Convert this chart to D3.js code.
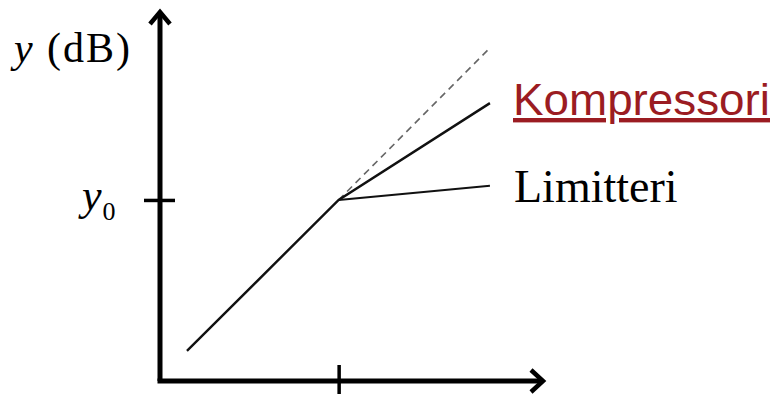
<!DOCTYPE html>
<html>
<head>
<meta charset="utf-8">
<script src="https://cdn.jsdelivr.net/npm/d3@7"></script>
<style>
  html, body { margin: 0; padding: 0; background: #fff; }
  svg { display: block; }
</style>
</head>
<body>
<svg width="773" height="394"></svg>
<script>
// input level (dB) at start, knee and end of each curve
const inputLevels = [7.0, 46.4, 85.7];
// output levels for each curve
const linearOut = [8.1, 48.8, 89.8];
const compressorOut = [8.1, 48.8, 74.9];
const limiterOut = [8.1, 48.8, 52.6];
const kneeX = 46.4;
const kneeY = 48.8;

const svg = d3.select('svg');

const x = d3.scaleLinear().domain([0, 100]).range([160, 545]);
const y = d3.scaleLinear().domain([0, 100]).range([381, 10]);

const line = d3.line()
    .x(d => d[0])
    .y(d => d[1]);

const pts = (ys) => inputLevels.map((v, i) => [x(v), y(ys[i])]);

// axes (ticks cross the axis line)
svg.append('g')
    .attr('transform', `translate(0,${y(0)})`)
    .call(d3.axisBottom(x).tickValues([kneeX]).tickFormat(''))
    .call(g => g.select('.domain').remove())
    .call(g => g.selectAll('.tick line').attr('y1', -16).attr('y2', 14).attr('stroke', '#000').attr('stroke-width', 3.5));

svg.append('g')
    .attr('transform', `translate(${x(0)},0)`)
    .call(d3.axisLeft(y).tickValues([kneeY]).tickFormat(''))
    .call(g => g.select('.domain').remove())
    .call(g => g.selectAll('.tick line').attr('x1', -16).attr('x2', 15).attr('stroke', '#000').attr('stroke-width', 3.5));

svg.append('path')
    .attr('d', line([[x(0) - 2.5, y(0)], [x(100) - 2, y(0)]]))
    .attr('stroke', '#000').attr('stroke-width', 5).attr('fill', 'none');
svg.append('path')
    .attr('d', line([[x(0), y(0)], [x(0), y(100) + 2]]))
    .attr('stroke', '#000').attr('stroke-width', 5).attr('fill', 'none');

// arrow heads
svg.append('path')
    .attr('d', line([[x(100) - 14, y(0) - 11], [x(100) - 2, y(0)], [x(100) - 14, y(0) + 11]]))
    .attr('stroke', '#000').attr('stroke-width', 4.5).attr('fill', 'none');
svg.append('path')
    .attr('d', line([[x(0) - 10, y(100) + 14], [x(0), y(100) + 2], [x(0) + 10, y(100) + 14]]))
    .attr('stroke', '#000').attr('stroke-width', 4.5).attr('fill', 'none');

// curves
svg.append('path')
    .attr('d', line(pts(linearOut).slice(1)))
    .attr('stroke', '#666').attr('stroke-width', 1.6).attr('fill', 'none')
    .attr('stroke-dasharray', '7,5');
svg.append('path')
    .attr('d', line(pts(compressorOut)))
    .attr('stroke', '#111').attr('stroke-width', 2.4).attr('fill', 'none');
svg.append('path')
    .attr('d', line(pts(limiterOut).slice(1)))
    .attr('stroke', '#111').attr('stroke-width', 2).attr('fill', 'none');

// labels
const yLabel = svg.append('text')
    .attr('x', 14).attr('y', 62)
    .attr('font-family', 'Liberation Serif, serif')
    .attr('font-size', 42)
    .attr('fill', '#000')
    .attr('textLength', 116);
yLabel.append('tspan').attr('font-style', 'italic').text('y');
yLabel.append('tspan').text(' (dB)');

const y0Label = svg.append('text')
    .attr('x', 82).attr('y', 210)
    .attr('font-family', 'Liberation Serif, serif')
    .attr('font-size', 44)
    .attr('fill', '#000');
y0Label.append('tspan').attr('font-style', 'italic').text('y');
y0Label.append('tspan').attr('font-size', 26).attr('dy', 10).attr('dx', 1).text('0');

svg.append('text')
    .attr('x', 513).attr('y', 115)
    .attr('font-family', 'Liberation Sans, Arial, sans-serif')
    .attr('font-size', 44)
    .attr('fill', '#9b1c22')
    .attr('text-decoration', 'underline')
    .attr('textLength', 257)
    .attr('lengthAdjust', 'spacingAndGlyphs')
    .text('Kompressori');

svg.append('text')
    .attr('x', 514).attr('y', 202)
    .attr('font-family', 'Liberation Serif, serif')
    .attr('font-size', 46)
    .attr('fill', '#000')
    .text('Limitteri');
</script>
</body>
</html>
